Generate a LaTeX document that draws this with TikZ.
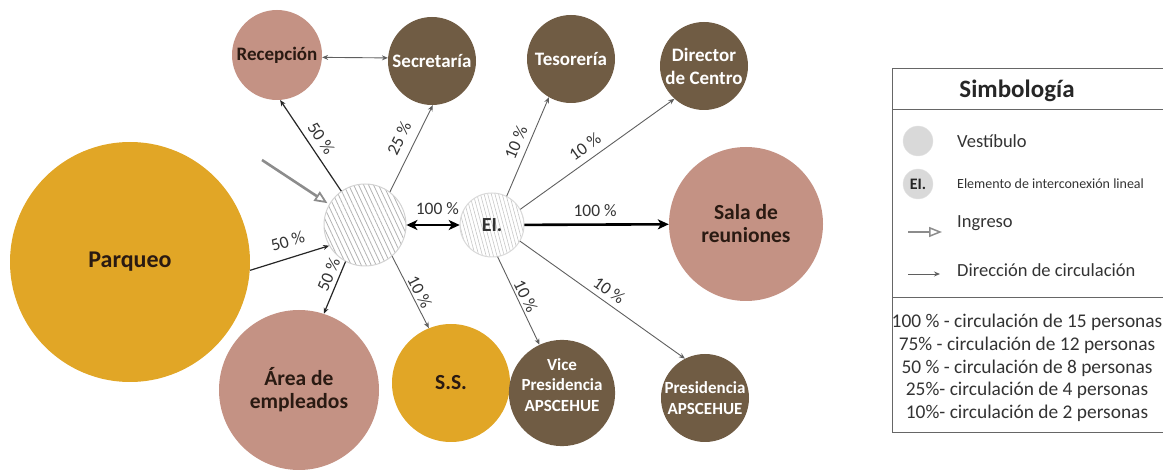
\documentclass[tikz,border=0pt]{standalone}
\usepackage{fontspec}
\setmainfont{Carlito}
\usetikzlibrary{positioning, calc, arrows.meta, patterns.meta}

\definecolor{mostaza}{RGB}{225,166,38}
\definecolor{rosado}{RGB}{196,146,132}
\definecolor{cafe}{RGB}{112,92,68}
\definecolor{textooscuro}{RGB}{42,26,18}
\definecolor{flecha}{RGB}{95,95,95}

\tikzset{
    zona/.style={circle, inner sep=0pt, align=center, minimum size=#1},
    dorada/.style={fill=mostaza, text=textooscuro},
    clara/.style={fill=rosado, text=textooscuro},
    oscura/.style={fill=cafe, text=white},
    fchica/.style={font=\fontsize{19}{23}\selectfont\bfseries},
    fmedia/.style={font=\fontsize{21.5}{23}\selectfont\bfseries},
    fgrande/.style={font=\fontsize{24}{28}\selectfont\bfseries},
    fapsc/.style={font=\fontsize{17}{20.5}\selectfont\bfseries},
    fleyenda/.style={font=\fontsize{18.5}{22.7}\selectfont, inner sep=0pt, text=black!80},
    pct/.style={font=\fontsize{17.5}{19}\selectfont, sloped, above, inner sep=1pt, text=black!80},
    circ/.style={-{Stealth[length=6pt,width=5pt]}, draw=flecha, line width=0.9pt},
    circfuerte/.style={-{Stealth[length=6pt,width=5pt]}, draw=black!85, line width=1.2pt},
    circtotal/.style={-{Stealth[length=11pt,width=10pt,inset=3pt]}, draw=black, line width=2.6pt},
    ingreso/.style={-{Triangle[open,length=13pt,width=11pt,line width=1.8pt]}, draw=gray!90, line width=2.6pt}
}

\begin{document}
\begin{tikzpicture}[x=1pt, y=-1pt]
    % Fix canvas
    \useasboundingbox (0,0) rectangle (1163,470);
    \clip (0,0) rectangle (1163,470);

    % Draw zones
    \node[zona=240pt, dorada, fgrande] (parq) at (130,262) {Parqueo};
    \node[zona=90pt, clara, fchica] (recep) at (277,55) {Recepción};
    \node[zona=88pt, oscura, fchica] (secre) at (432,61) {Secretaría};
    \node[zona=88pt, oscura, fchica] (teso) at (571,59) {Tesorería};
    \node[zona=88pt, oscura, fchica] (direc) at (704,66) {Director\\de Centro};
    \node[zona=154pt, clara, fmedia] (sala) at (746,224) {Sala de\\reuniones};
    \node[zona=160pt, clara, fmedia] (area) at (299,390) {Área de\\empleados};
    \node[zona=118pt, dorada, fmedia] (ss) at (451,383) {S.S.};
    \node[zona=90pt, oscura, fapsc] (vice) at (562,393) {Vice\\Presidencia\\APSCEHUE\\[-4pt]\mbox{}};
    \node[zona=88pt, oscura, fapsc] (presi) at (705,398) {Presidencia\\APSCEHUE};

    % Draw vestibule and linear element
    \node[zona=82pt, draw=gray!35, line width=1pt, pattern={Lines[angle=-65,distance=4.5pt,line width=0.8pt]}, pattern color=gray!60] (vest) at (365,225) {};
    \node[zona=64pt, draw=gray!30, line width=1pt, pattern={Lines[angle=-75,distance=3.5pt,line width=0.6pt]}, pattern color=gray!45, font=\fontsize{20}{22}\selectfont\bfseries, text=black!80] (ei) at (492,225) {EI.};

    % Entrance
    \coordinate (entrada) at (262,160);
    \draw[ingreso, shorten >=2pt] (entrada) -- (vest.150);

    % Circulation from vestibule
    \draw[circfuerte] (parq.-4) -- node[pct, pos=.54, above=9pt] (p1) {50 \%} (vest.-150);
    \draw[circfuerte] (vest.125) -- node[pct, pos=.5, above=5pt] (p2) {50 \%} (recep.-86);
    \draw[circ] (vest.53) -- node[pct, pos=.54, above=8pt] (p3) {25 \%} (secre.-89);
    \draw[circfuerte] (vest.-118) -- node[pct, pos=.33, above=3pt] (p4) {50 \%} (area.72);
    \draw[circ] (vest.-49) -- node[pct, pos=.55, above=1pt] (p5) {10 \%} (ss.112);
    \draw[circtotal, {Stealth[length=11pt,width=10pt,inset=3pt]}-{Stealth[length=11pt,width=10pt,inset=3pt]}] (vest) -- node[pct, pos=.58, above=8pt] (p6) {100 \%} (ei);
    \draw[circ, {Stealth[length=6pt,width=5pt]}-{Stealth[length=6pt,width=5pt]}] (recep.-3) -- (secre.176);

    % Circulation from linear element
    \draw[circtotal] (ei) -- node[pct, pos=.49, above=6pt] (p7) {100 \%} (sala);
    \draw[circ] (ei.63) -- node[pct, pos=.49, above=5pt] (p8) {10 \%} (teso.-120);
    \draw[circ] (ei.29) -- node[pct, pos=.47, above=6pt] (p9) {10 \%} (direc.-132);
    \draw[circ] (ei.-80) -- node[pct, pos=.49, above=1pt] (p10) {10 \%} (vice.115);
    \draw[circ] (ei.-30) -- node[pct, pos=.5, above=4pt] (p11) {10 \%} (presi.117);

    % Legend box
    \draw[black!60, line width=1pt] (892,69) rectangle (1175,433);
    \draw[black!60, line width=1pt] (892,110) -- (1175,110);
    \draw[black!60, line width=1pt] (892,298) -- (1175,298);
    \node[font=\fontsize{25}{28}\selectfont\bfseries, text=black!85] (titulo) at (1017,91) {Simbología};

    % Legend symbols
    \node[zona=30pt, fill=gray!30, draw=gray!20] (lvest) at (918,141) {};
    \node[fleyenda, anchor=west] (tvest) at (957,141) {Vestíbulo};
    \node[zona=30pt, fill=gray!30, draw=gray!20, font=\fontsize{16}{18}\selectfont\bfseries, text=black!85] (lei) at (918,184) {EI.};
    \node[fleyenda, anchor=west, font=\fontsize{14}{16}\selectfont] (tei) at (957,184) {Elemento de interconexión lineal};
    \coordinate (ingA) at (908,232);
    \coordinate (ingB) at (942,232);
    \draw[-{Triangle[open,length=13pt,width=10pt,line width=1.5pt]}, draw=gray!90, line width=2.2pt] (ingA) -- (ingB);
    \node[fleyenda, anchor=west] (ting) at (957,223) {Ingreso};
    \coordinate (dirA) at (908,274);
    \coordinate (dirB) at (940,274);
    \draw[circ] (dirA) -- (dirB);
    \node[fleyenda, anchor=west] (tdir) at (957,270) {Dirección de circulación};

    % Percentage scale
    \node[fleyenda, align=center, font=\fontsize{19.4}{22.8}\selectfont] (escala) at (1027,368) {100 \% - circulación de 15 personas\\75\% - circulación de 12 personas\\50 \% - circulación de 8 personas\\25\%- circulación de 4 personas\\10\%- circulación de 2 personas};
\end{tikzpicture}
\end{document}
